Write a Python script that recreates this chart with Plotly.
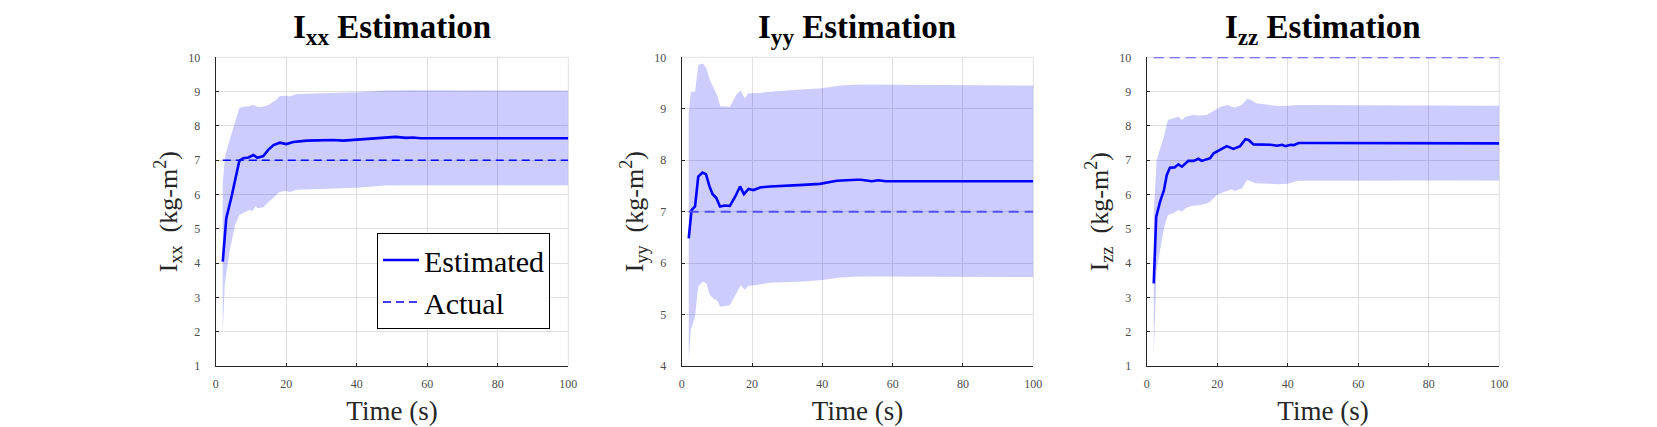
import plotly.graph_objects as go

# ---------------- data ----------------
t_est_xx = [2, 3, 4.5, 6, 6.7, 7.8, 9.3, 10.7, 11.8, 13.5, 14.9, 16.4, 18.2, 20, 22, 25.8, 33.4, 36.2, 42.8, 48.5, 51, 54, 56, 58, 100]
est_xx = [4.04, 5.31, 5.94, 6.62, 6.98, 7.06, 7.08, 7.15, 7.07, 7.12, 7.30, 7.44, 7.51, 7.47, 7.53, 7.57, 7.59, 7.57, 7.62, 7.67, 7.68, 7.65, 7.66, 7.64, 7.64]
t_band_xx = [2, 2.6, 4, 5.5, 6.7, 8, 9.5, 10.5, 11.3, 12, 13.5, 15, 17, 18.2, 20, 21, 23, 30, 40, 48, 55, 100]
up_xx = [6.3, 7.1, 7.6, 8.1, 8.52, 8.56, 8.57, 8.62, 8.58, 8.55, 8.56, 8.62, 8.75, 8.87, 8.88, 8.86, 8.93, 8.95, 8.98, 9.03, 9.04, 9.03]
lo_xx = [1.95, 3.41, 4.38, 5.1, 5.40, 5.47, 5.55, 5.52, 5.66, 5.6, 5.63, 5.78, 5.95, 6.08, 6.10, 6.07, 6.14, 6.17, 6.20, 6.26, 6.27, 6.27]
actual_xx = 7

t_est_yy = [2, 2.8, 3.8, 4.7, 5.9, 6.9, 7.9, 8.8, 9.8, 10.9, 12.3, 13.7, 15.2, 16.6, 17.7, 19, 20.4, 22.3, 25.1, 29.9, 34.6, 39.3, 44.1, 49.8, 51, 54, 56, 58, 100]
est_yy = [6.48, 7.03, 7.10, 7.68, 7.76, 7.73, 7.49, 7.34, 7.27, 7.10, 7.12, 7.11, 7.29, 7.49, 7.34, 7.44, 7.42, 7.47, 7.49, 7.50, 7.52, 7.54, 7.60, 7.62, 7.62, 7.59, 7.61, 7.59, 7.59]
t_band_yy = [2, 2.6, 3.8, 4.7, 6, 7, 8, 9, 10, 11, 13.7, 15.5, 16.8, 17.9, 19, 21, 25, 35, 40, 45, 50, 100]
up_yy = [8.91, 9.33, 9.33, 9.85, 9.88, 9.79, 9.56, 9.40, 9.27, 9.05, 9.04, 9.27, 9.36, 9.20, 9.30, 9.30, 9.33, 9.38, 9.40, 9.45, 9.47, 9.45]
lo_yy = [4.12, 4.70, 4.96, 5.54, 5.64, 5.61, 5.38, 5.31, 5.28, 5.15, 5.18, 5.41, 5.57, 5.48, 5.56, 5.57, 5.62, 5.64, 5.67, 5.72, 5.74, 5.73]
actual_yy = 7

t_est_zz = [2, 2.7, 3.8, 4.9, 5.7, 6.6, 7.9, 9, 10, 11.8, 13.3, 14.7, 15.6, 18, 19, 19.9, 21.8, 22.7, 24.6, 26.5, 28, 28.9, 30.3, 33.2, 35.1, 37, 38.4, 39.3, 40.8, 41.7, 43.1, 48.3, 100]
est_zz = [3.41, 5.35, 5.79, 6.13, 6.57, 6.78, 6.79, 6.88, 6.81, 6.98, 6.98, 7.04, 6.98, 7.06, 7.20, 7.25, 7.37, 7.41, 7.33, 7.41, 7.61, 7.59, 7.46, 7.45, 7.45, 7.42, 7.45, 7.41, 7.45, 7.44, 7.50, 7.50, 7.49]
t_band_zz = [2, 2.8, 4, 5, 6, 7.5, 9, 10, 11, 13, 15, 17, 18, 19, 20, 21, 22, 23, 24, 25, 27, 28.5, 29.5, 31, 35, 37, 40, 43, 100]
up_zz = [5.5, 7.0, 7.40, 7.74, 8.17, 8.22, 8.27, 8.17, 8.27, 8.32, 8.30, 8.32, 8.38, 8.46, 8.52, 8.56, 8.59, 8.61, 8.56, 8.54, 8.61, 8.79, 8.76, 8.66, 8.61, 8.58, 8.59, 8.61, 8.59]
lo_zz = [1.3, 3.8, 4.5, 5.06, 5.40, 5.45, 5.55, 5.50, 5.6, 5.67, 5.69, 5.74, 5.79, 5.89, 5.99, 6.04, 6.08, 6.12, 6.15, 6.10, 6.18, 6.42, 6.39, 6.33, 6.31, 6.30, 6.31, 6.40, 6.41]
actual_zz = 10

t_actual = [2, 100]
x_ticks = [0, 20, 40, 60, 80, 100]
titles = ["I<sub>xx</sub> Estimation", "I<sub>yy</sub> Estimation", "I<sub>zz</sub> Estimation"]
ylabels = ["I<sub>xx</sub>  (kg-m<sup>2</sup>)", "I<sub>yy</sub>  (kg-m<sup>2</sup>)", "I<sub>zz</sub>  (kg-m<sup>2</sup>)"]
y_ranges = [[1, 10], [4, 10], [1, 10]]
xlabel = "Time (s)"

# ---------------- figure ----------------
W, H = 1657, 427
OFF = 8  # page body margin offset
FONT = "Liberation Serif"
BAND = "rgba(0,0,255,0.2)"
panels = [
    (t_est_xx, est_xx, t_band_xx, up_xx, lo_xx, actual_xx),
    (t_est_yy, est_yy, t_band_yy, up_yy, lo_yy, actual_yy),
    (t_est_zz, est_zz, t_band_zz, up_zz, lo_zz, actual_zz),
]
x_px = [(215.7, 568.3), (681.7, 1033.3), (1146.7, 1499.3)]
px = lambda v: (v - OFF) / W
py = lambda v: 1 - (v - OFF) / H
y_dom = [py(366), py(57.3)]

fig = go.Figure()
layout = dict(
    width=W, height=H, margin=dict(l=0, r=0, t=0, b=0, autoexpand=False),
    paper_bgcolor="white", plot_bgcolor="white",
    font=dict(family=FONT, color="black"),
    showlegend=True,
    legend=dict(x=px(377), y=py(233), xanchor="left", yanchor="top",
                bgcolor="white", bordercolor="black", borderwidth=1,
                font=dict(family=FONT, size=30, color="black"),
                traceorder="normal", tracegroupgap=0, itemwidth=36),
)
annotations = []
shapes = []

for i, (te, ev, tb, up, lo, act) in enumerate(panels):
    n = "" if i == 0 else str(i + 1)
    xa, ya = "x" + n, "y" + n
    # band
    fig.add_trace(go.Scatter(x=tb, y=lo, mode="lines", line=dict(width=0, color=BAND),
                             xaxis=xa, yaxis=ya, showlegend=False, hoverinfo="skip"))
    fig.add_trace(go.Scatter(x=tb, y=up, mode="lines", line=dict(width=0, color=BAND),
                             fill="tonexty", fillcolor=BAND,
                             xaxis=xa, yaxis=ya, showlegend=False, hoverinfo="skip"))
    # estimated
    fig.add_trace(go.Scatter(x=te, y=ev, mode="lines", name="Estimated",
                             line=dict(color="#0000ff", width=2.6),
                             xaxis=xa, yaxis=ya, showlegend=(i == 0), legendrank=1))
    # actual
    if i == 0:
        aline = dict(color="#0000ff", width=1.5, dash="8px,5px")
    else:
        aline = dict(color="rgb(80,80,245)", width=2, dash="10px,6px")
    fig.add_trace(go.Scatter(x=t_actual, y=[act, act], mode="lines", name="Actual",
                             line=aline, xaxis=xa, yaxis=ya, showlegend=(i == 0),
                             legendrank=2, cliponaxis=False))

    x0, x1 = x_px[i]
    layout["xaxis" + n] = dict(
        domain=[px(x0), px(x1)], anchor=ya, range=[0, 100], automargin=False,
        tickvals=x_ticks, ticks="inside", ticklen=3, tickcolor="#262626",
        showline=True, linecolor="#262626", linewidth=1,
        showgrid=True, gridcolor="#dfdfdf", gridwidth=1, zeroline=False,
        tickfont=dict(family=FONT, size=12, color="#4d4d4d"), ticklabelstandoff=7,
        title=dict(text=xlabel, font=dict(family=FONT, size=27, color="#262626"), standoff=10),
    )
    yr = y_ranges[i]
    layout["yaxis" + n] = dict(
        domain=y_dom, anchor=xa, range=yr, automargin=False,
        tickvals=list(range(yr[0], yr[1] + 1)), ticks="inside", ticklen=3, tickcolor="#262626",
        showline=True, linecolor="#262626", linewidth=1,
        showgrid=True, gridcolor="#dfdfdf", gridwidth=1, zeroline=False,
        tickfont=dict(family=FONT, size=12, color="#4d4d4d"), ticklabelstandoff=12,
        title=dict(text=ylabels[i], font=dict(family=FONT, size=26, color="#262626"), standoff=3),
    )
    # top/right light box edges
    shapes.append(dict(type="line", xref=xa + " domain", yref=ya + " domain",
                       x0=0, x1=1, y0=1, y1=1, line=dict(color="#dfdfdf", width=1), layer="below"))
    shapes.append(dict(type="line", xref=xa + " domain", yref=ya + " domain",
                       x0=1, x1=1, y0=0, y1=1, line=dict(color="#dfdfdf", width=1), layer="below"))
    annotations.append(dict(text="<b>" + titles[i] + "</b>", xref="paper", yref="paper",
                            x=px((x0 + x1) / 2), y=1, xanchor="center", yanchor="top",
                            borderpad=0, showarrow=False,
                            font=dict(family=FONT, size=33, color="black")))

layout["annotations"] = annotations
layout["shapes"] = shapes
fig.update_layout(**layout)
fig.write_html("out.html")
